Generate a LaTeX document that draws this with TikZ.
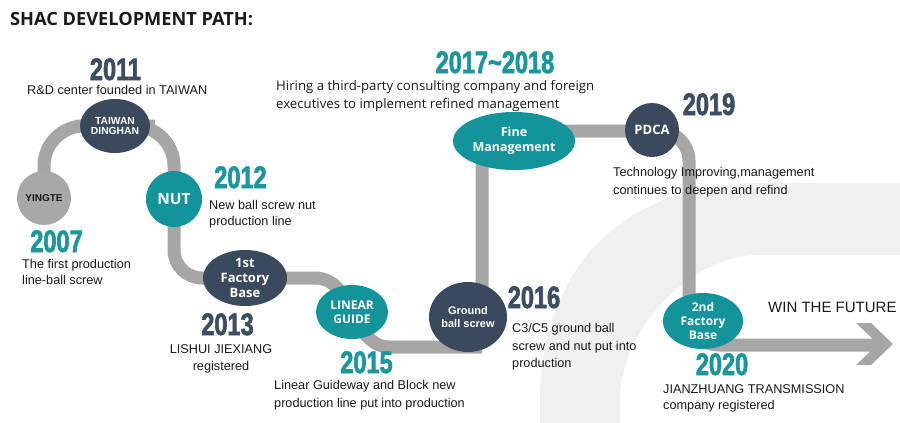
\documentclass[tikz,border=0pt]{standalone}
\usepackage{fontspec}
\setmainfont{Liberation Sans}
\newfontfamily\osans{Open Sans}
\newfontfamily\yearfont{Liberation Sans}[FakeStretch=0.76,BoldFeatures={FakeStretch=0.76,FakeBold=2}]
\usetikzlibrary{shapes.geometric,backgrounds}
\definecolor{slate}{HTML}{3A4A5C}
\definecolor{tealc}{HTML}{13939A}
\definecolor{trackgray}{HTML}{A6A6A6}
\definecolor{ygray}{HTML}{A8A8A8}
\definecolor{yrdark}{HTML}{3D4E62}
\definecolor{yrteal}{HTML}{1A969C}
\definecolor{wmgray}{HTML}{F0F0F0}
\definecolor{txt}{HTML}{1A1A1A}
\tikzset{
  track/.style={draw=trackgray, line width=13pt},
  darknode/.style={ellipse, fill=slate, inner sep=0pt},
  tealnode/.style={ellipse, fill=tealc, inner sep=0pt},
  lab/.style={text=white, align=center, inner sep=0pt},
  yrd/.style={anchor=base, inner sep=0pt, text=yrdark, font=\yearfont\bfseries\fontsize{31}{31}\selectfont},
  yrt/.style={yrd, text=yrteal},
  desc/.style={anchor=base west, inner sep=0pt, text=txt, font=\fontsize{12.7}{16}\selectfont},
  descc/.style={desc, anchor=base},
}
\begin{document}
\begin{tikzpicture}[x=1pt,y=-1pt]
\useasboundingbox (0,0) rectangle (900,423);

% title
\node[anchor=base west, inner sep=0pt, text=txt, font=\osans\bfseries\fontsize{18.2}{18}\selectfont] (title) at (10,25) {SHAC DEVELOPMENT PATH:};

% milestone nodes
\node[circle, fill=ygray, minimum size=54pt, inner sep=0pt,
  label={[lab, text=txt, font=\bfseries\fontsize{10}{10}\selectfont]center:YINGTE}] (ying) at (44,198) {};
\node[darknode, minimum width=70pt, minimum height=54pt,
  label={[lab, font=\bfseries\fontsize{10.3}{10.8}\selectfont]center:{TAIWAN\\DINGHAN}}] (taiwan) at (115,126) {};
\node[circle, fill=tealc, minimum size=56pt, inner sep=0pt,
  label={[lab, font=\osans\bfseries\fontsize{15.5}{16}\selectfont]center:NUT}] (nut) at (174,199) {};
\node[darknode, minimum width=84pt, minimum height=56pt,
  label={[lab, font=\osans\bfseries\fontsize{13}{15}\selectfont]center:{1st\\Factory\\Base}}] (f1) at (245,278) {};
\node[tealnode, minimum width=72pt, minimum height=54pt,
  label={[lab, font=\osans\bfseries\fontsize{12}{14}\selectfont]center:{LINEAR\\GUIDE}}] (lg) at (352,312) {};
\node[darknode, minimum width=78pt, minimum height=70pt,
  label={[lab, font=\bfseries\fontsize{11}{12.5}\selectfont]center:{Ground\\ball screw}}] (gbs) at (468,317) {};
\node[tealnode, minimum width=122pt, minimum height=58pt,
  label={[lab, font=\osans\bfseries\fontsize{12.5}{15}\selectfont]center:{Fine\\Management}}] (fm) at (514,141) {};
\node[circle, fill=slate, minimum size=54pt, inner sep=0pt,
  label={[lab, font=\osans\bfseries\fontsize{13}{14}\selectfont]center:PDCA}] (pdca) at (652,130) {};
\node[tealnode, minimum width=80pt, minimum height=56pt,
  label={[lab, font=\osans\bfseries\fontsize{12}{14}\selectfont]center:{2nd\\Factory\\Base}}] (f2) at (703,321) {};

% track bend points
\coordinate (c1) at (315,278);
\coordinate (c2) at (390,347);
\coordinate (c3) at (482,347);
\coordinate (c4) at (482,131);
\coordinate (c5) at (689,131);
\coordinate (c6) at (689,345);
\coordinate (c7) at (879,345);

\begin{scope}[on background layer]
  % watermark
  \fill[wmgray] (900,183) -- (760,183)
    .. controls (624,183) and (540,267) .. (540,403)
    -- (540,423) -- (620,423) -- (620,400)
    .. controls (620,330) and (690,255) .. (760,255)
    -- (900,255) -- cycle;
  % track
  \draw[track, rounded corners=40pt] (ying.center) |- (taiwan.center) -| (nut.center);
  \draw[track, rounded corners=28pt] (nut.center) |- (f1.center);
  \draw[track] (f1.center) -- (c1) to[out=0, in=180] (c2) -- (c3);
  \draw[track, rounded corners=30pt] (c3) -- (c4) -- (c5) -- (c6) -- (c7);
  % arrow head
  \fill[trackgray] (856,323) -- (871,323) -- (893,344) -- (871,365) -- (856,365) -- (878,344) -- cycle;
\end{scope}

% years
\node[yrd] (y2011) at (115.5,80) {2011};
\node[yrt] (y2012) at (240.5,188) {2012};
\node[yrt] (y2007) at (56.5,252) {2007};
\node[yrd] (y2013) at (227.5,335) {2013};
\node[yrt] (y2015) at (366.5,373) {2015};
\node[yrd] (y2016) at (534,308) {2016};
\node[yrt] (y2017) at (495,73) {2017\char`~2018};
\node[yrd] (y2019) at (709,115) {2019};
\node[yrt] (y2020) at (722,375) {2020};

% descriptions
\node[desc] (d2011) at (27,94) {R\&D center founded in TAIWAN};
\node[desc] (d2012a) at (209,209) {New ball screw nut};
\node[desc] (d2012b) at (209,225) {production line};
\node[desc] (d2007a) at (22,268) {The first production};
\node[desc] (d2007b) at (22,284) {line-ball screw};
\node[descc] (d2013a) at (221,353) {LISHUI JIEXIANG};
\node[descc] (d2013b) at (221,370) {registered};
\node[desc] (d2015a) at (274,389) {Linear Guideway and Block new};
\node[desc] (d2015b) at (274,407) {production line put into production};
\node[desc] (d2016a) at (512,332) {C3/C5 ground ball};
\node[desc] (d2016b) at (512,350) {screw and nut put into};
\node[desc] (d2016c) at (512,367) {production};
\node[desc, font=\osans\fontsize{13.2}{16}\selectfont] (d2017a) at (276,90) {Hiring a third-party consulting company and foreign};
\node[desc, font=\osans\fontsize{13.2}{16}\selectfont] (d2017b) at (276,108) {executives to implement refined management};
\node[desc] (d2019a) at (613,176) {Technology Improving,management};
\node[desc] (d2019b) at (613,194) {continues to deepen and refind};
\node[desc] (d2020a) at (663,393) {JIANZHUANG TRANSMISSION};
\node[desc] (d2020b) at (663,409) {company registered};
\node[desc, font=\fontsize{15}{16}\selectfont] (win) at (768,312) {WIN THE FUTURE};
\end{tikzpicture}
\end{document}
